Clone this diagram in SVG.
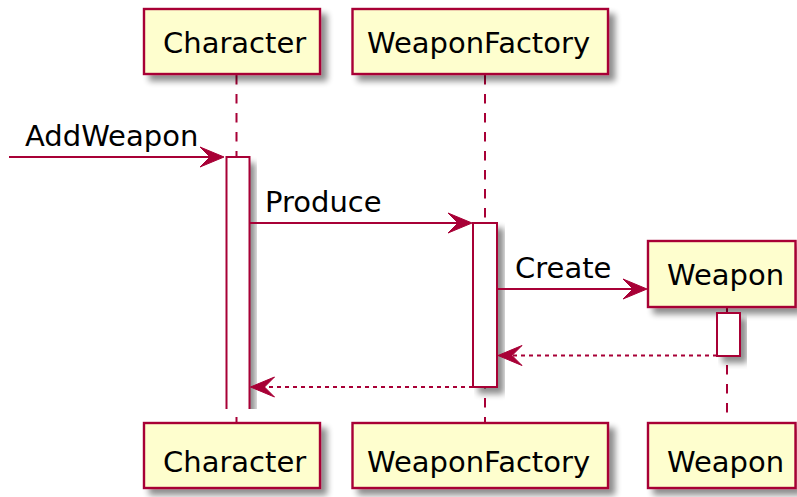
<svg xmlns="http://www.w3.org/2000/svg" width="797" height="497" viewBox="0 0 797 497">
  <defs>
    <filter id="shadow" x="-20%" y="-20%" width="150%" height="150%">
      <feGaussianBlur in="SourceAlpha" stdDeviation="3" result="blur"/>
      <feOffset in="blur" dx="6" dy="6" result="off"/>
      <feComponentTransfer in="off" result="soft">
        <feFuncA type="linear" slope="0.45"/>
      </feComponentTransfer>
      <feMerge>
        <feMergeNode in="soft"/>
        <feMergeNode in="SourceGraphic"/>
      </feMerge>
    </filter>
    <!-- the open-ended activation is cut off where the lifeline ends -->
    <clipPath id="openBar">
      <rect x="210" y="140" width="70" height="269"/>
    </clipPath>
  </defs>
  <style>
    .box { fill: #FEFECE; stroke: #A80036; stroke-width: 2.4; }
    .bar { fill: #FFFFFF; stroke: #A80036; stroke-width: 2; }
    .life { fill: none; stroke: #A80036; stroke-width: 2; stroke-dasharray: 9.5 9.5; }
    .msg { fill: none; stroke: #A80036; stroke-width: 2; }
    .ret { fill: none; stroke: #A80036; stroke-width: 2; stroke-dasharray: 4 4; }
    .head { fill: #A80036; stroke: #A80036; stroke-width: 1; }
    text { font-family: "DejaVu Sans", "Liberation Sans", sans-serif; font-size: 29px; fill: #000000; }
  </style>

  <rect width="797" height="497" fill="#FFFFFF"/>

  <!-- Character participant -->
  <g id="character">
    <line class="life" x1="236.5" y1="75" x2="236.5" y2="423"/>
    <rect class="box" x="144" y="9" width="176" height="65" filter="url(#shadow)"/>
    <text x="163" y="53">Character</text>
    <rect class="box" x="144" y="423" width="176" height="65" filter="url(#shadow)"/>
    <text x="163" y="472">Character</text>
    <!-- activation runs to the end of the diagram, left open at the bottom -->
    <g clip-path="url(#openBar)">
      <rect x="226.5" y="157" width="23" height="270" fill="#FFFFFF" filter="url(#shadow)"/>
    </g>
    <path class="bar" d="M226.5,409 V157 H249.5 V409" fill="none"/>
  </g>

  <!-- WeaponFactory participant -->
  <g id="weaponFactory">
    <line class="life" x1="485" y1="75" x2="485" y2="423"/>
    <rect class="box" x="352.5" y="9" width="255.5" height="65" filter="url(#shadow)"/>
    <text x="367" y="53">WeaponFactory</text>
    <rect class="box" x="352.5" y="423" width="255.5" height="65" filter="url(#shadow)"/>
    <text x="367" y="472">WeaponFactory</text>
    <rect class="bar" x="473" y="223" width="24" height="164" filter="url(#shadow)"/>
  </g>

  <!-- Weapon participant (created by the factory) -->
  <g id="weapon">
    <line class="life" x1="727" y1="308" x2="727" y2="423"/>
    <rect class="box" x="648" y="241" width="147.5" height="66" filter="url(#shadow)"/>
    <text x="667" y="285">Weapon</text>
    <rect class="box" x="648" y="423" width="147.5" height="65" filter="url(#shadow)"/>
    <text x="667" y="472">Weapon</text>
    <rect class="bar" x="717" y="313" width="23" height="43" filter="url(#shadow)"/>
  </g>

  <!-- Messages -->
  <g id="connectors">
    <line class="msg" x1="9" y1="157" x2="216" y2="157"/>
    <polygon class="head" points="224,157 200,147 210,157 200,167"/>
    <text x="25" y="146">AddWeapon</text>

    <line class="msg" x1="249.5" y1="223" x2="464" y2="223"/>
    <polygon class="head" points="472,223 448,213 458,223 448,233"/>
    <text x="265" y="212">Produce</text>

    <line class="msg" x1="497" y1="289" x2="639" y2="289"/>
    <polygon class="head" points="647,289 623,279 633,289 623,299"/>
    <text x="515" y="278">Create</text>

    <line class="ret" x1="717" y1="355.5" x2="508" y2="355.5"/>
    <polygon class="head" points="498,355.5 522,345.5 512,355.5 522,365.5"/>

    <line class="ret" x1="473" y1="387" x2="260" y2="387"/>
    <polygon class="head" points="250.5,387 274.5,377 264.5,387 274.5,397"/>
  </g>
</svg>
